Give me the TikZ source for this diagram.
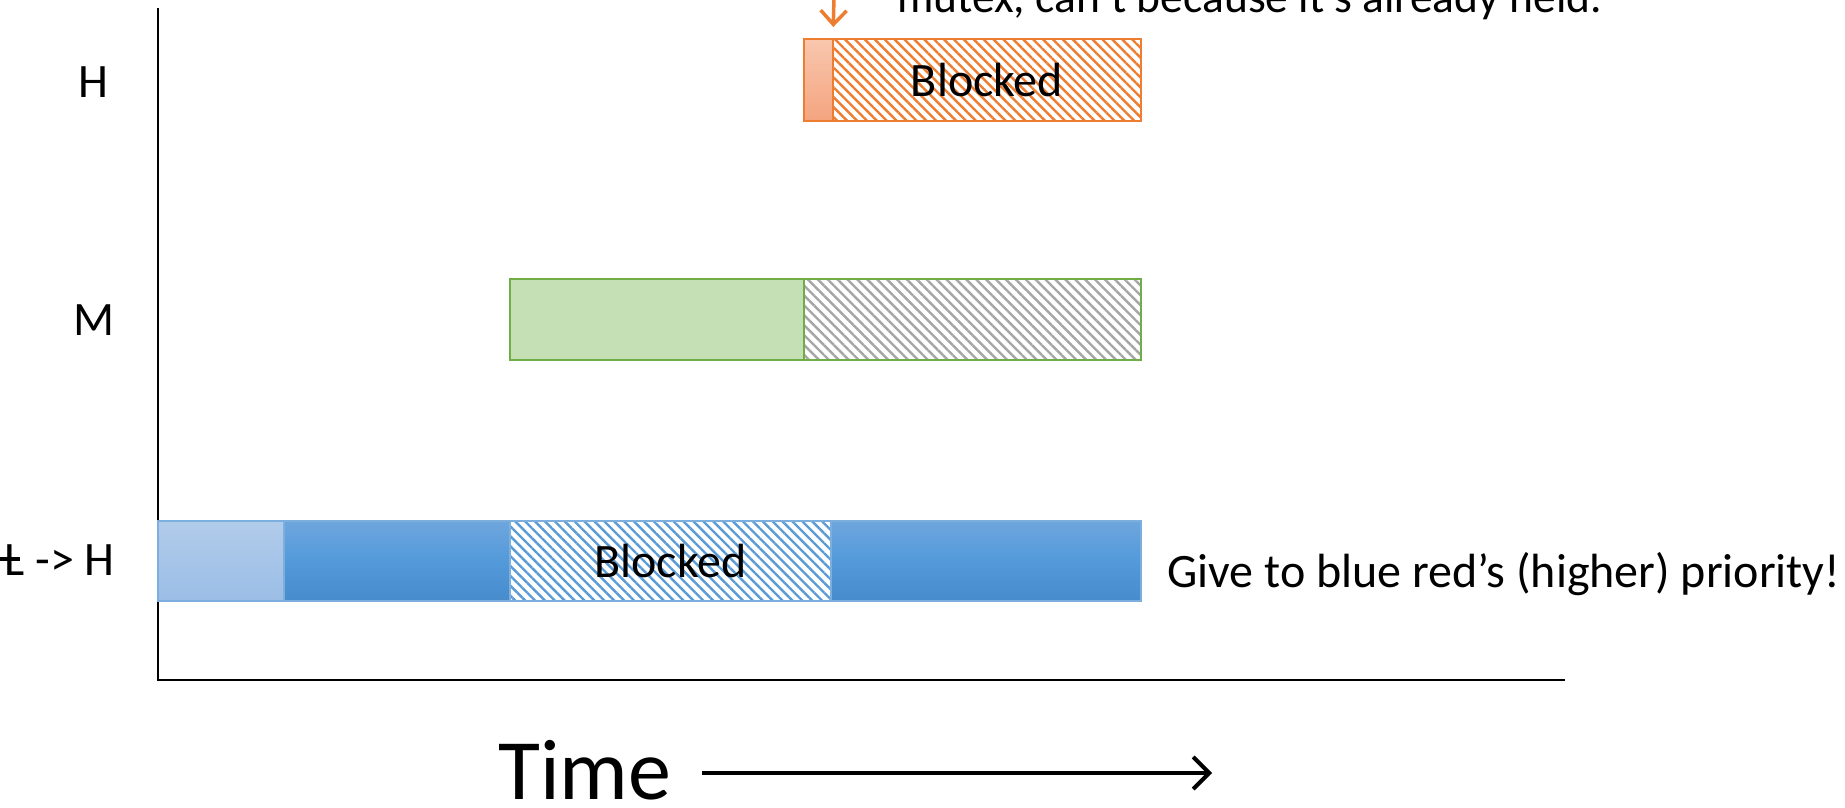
\documentclass[tikz,border=0pt]{standalone}
\usepackage{fontspec}
\setmainfont{Carlito}
\usetikzlibrary{patterns.meta,arrows.meta}

\definecolor{hiOrange}{HTML}{ED7D31}
\definecolor{hiOrangeTop}{HTML}{F8C7AE}
\definecolor{hiOrangeBot}{HTML}{F4A47F}
\definecolor{midGreen}{HTML}{70AD47}
\definecolor{midGreenFill}{HTML}{C5E0B4}
\definecolor{hatchGray}{HTML}{A6A6A6}
\definecolor{loBlue}{HTML}{5B9BD5}
\definecolor{loBlueTop}{HTML}{6EA6DD}
\definecolor{loBlueMid}{HTML}{539ADA}
\definecolor{loBlueBot}{HTML}{478BCB}
\definecolor{loPaleTop}{HTML}{B1CBEA}
\definecolor{loPaleBot}{HTML}{9BBEE6}

\tikzset{
  txt/.style={font=\fontsize{48}{58}\selectfont, inner sep=0pt},
  bar/.style={line width=2pt, inner sep=0pt, outer sep=0pt, anchor=north west,
              minimum height=81pt, font=\fontsize{48}{58}\selectfont},
  hatched/.style={pattern={Lines[angle=-45,distance=7pt,line width=2.4pt]}},
  axisline/.style={line width=2.8pt, black},
}

\begin{document}
\begin{tikzpicture}[x=1pt,y=-1pt]
\useasboundingbox (0,0) rectangle (1845,808);
\clip (0,0) rectangle (1845,808);

% axes
\coordinate (origin) at (158,680);
\coordinate (yTop) at (158,8);
\coordinate (xEnd) at (1565,680);
\draw[axisline] (yTop) -- (origin) -- (xEnd);

% priority labels
\node[txt, anchor=base] (labH) at (93,97) {H};
\node[txt, anchor=base] (labM) at (94,335) {M};
\node[txt, anchor=base east] (labL) at (115,575)
  {\makebox[0pt][l]{\kern-0.16em\rule[0.3em]{0.48em}{0.065em}}L -> H};

% high priority task
\node[bar, draw=hiOrange, top color=hiOrangeTop, bottom color=hiOrangeBot,
      minimum width=29pt, minimum height=82pt] (hrun) at (804,39) {};
\node[bar, draw=hiOrange, hatched, pattern color=hiOrange,
      minimum width=308pt, minimum height=82pt] (hblk) at (833,39) {Blocked};

% medium priority task
\node[bar, draw=midGreen, fill=midGreenFill, minimum width=294pt] (mrun) at (510,279) {};
\node[bar, draw=midGreen, hatched, pattern color=hatchGray,
      minimum width=337pt] (mwait) at (804,279) {};

% low priority task (boosted)
\node[bar, draw=loBlue!80, top color=loPaleTop, bottom color=loPaleBot,
      minimum width=126pt, minimum height=80pt] (lrunA) at (158,521) {};
\node[bar, draw=loBlue!80, top color=loBlueTop, bottom color=loBlueBot, middle color=loBlueMid,
      minimum width=226pt, minimum height=80pt] (lrunB) at (284,521) {};
\node[bar, draw=loBlue!80, hatched, pattern color=loBlue,
      minimum width=321pt, minimum height=80pt] (lblk) at (510,521) {Blocked};
\node[bar, draw=loBlue!80, top color=loBlueTop, bottom color=loBlueBot, middle color=loBlueMid,
      minimum width=310pt, minimum height=80pt] (lrunC) at (831,521) {};

% annotations
\node[txt, anchor=base west] (note) at (1167,587) {Give to blue red’s (higher) priority!};
\node[font=\fontsize{45.5}{54}\selectfont, inner sep=0pt, anchor=base west] (mutexNote)
  at (897,13) {mutex, can’t because it’s already held.};

\coordinate (holdTop) at (834,-4);
\draw[hiOrange, line width=3.5pt, shorten >=12pt,
      -{Straight Barb[length=14pt,width=26pt,line width=3.5pt]}] (holdTop) -- (hblk.north west);

% time axis caption
\node[font=\fontsize{86}{100}\selectfont, inner sep=0pt, anchor=base west] (time) at (498,799) {Time};
\coordinate (timeStart) at (702,773);
\coordinate (timeEnd) at (1212,773);
\draw[line width=4pt, -{Straight Barb[length=16pt,width=32pt,line width=4pt]}] (timeStart) -- (timeEnd);
\end{tikzpicture}
\end{document}
